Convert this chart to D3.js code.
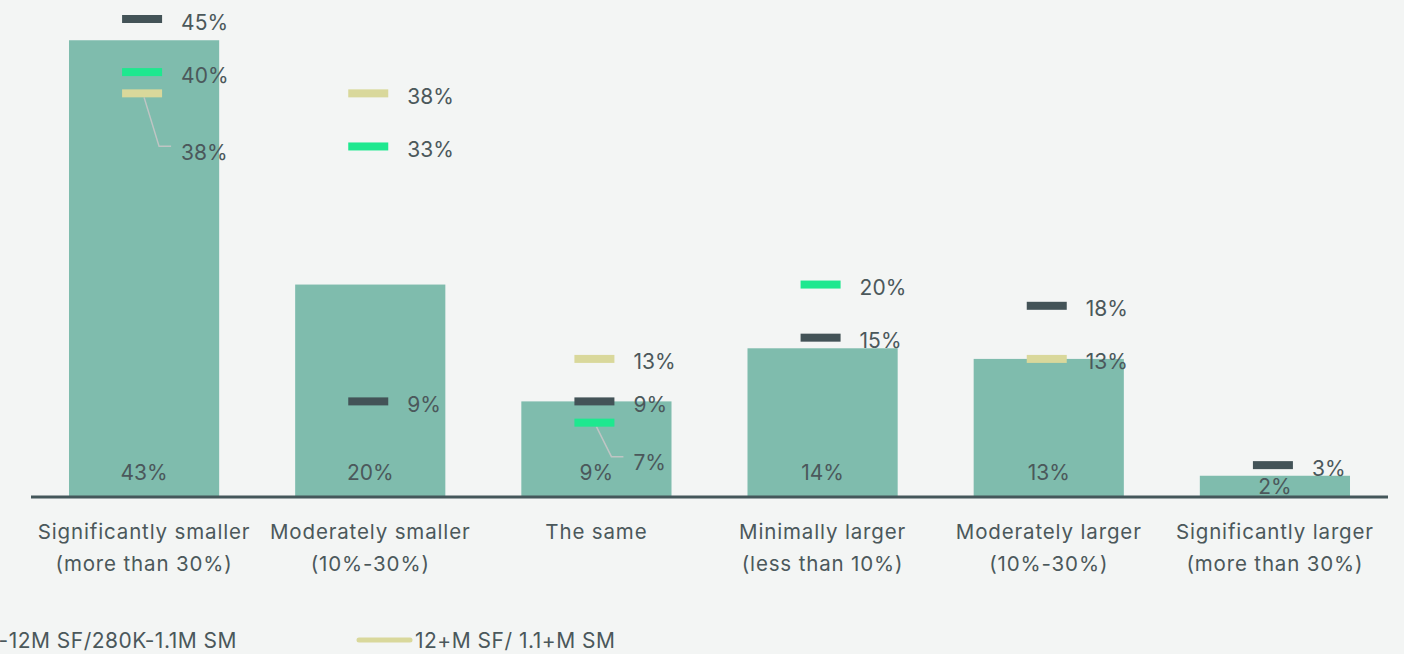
<!DOCTYPE html>
<meta charset="utf-8">
<style>
body { margin: 0; background: #f3f5f4; }
svg { display: block; font-family: Inter, sans-serif; }
.lbl { fill: #4b585b; font-size: 21px; letter-spacing: 0px; }
.cat { fill: #4b585b; font-size: 20.5px; letter-spacing: 0.85px; text-anchor: middle; }
.leg { fill: #4b585b; font-size: 21px; letter-spacing: 0.5px; }
.leader { fill: none; stroke: #bfc5c4; stroke-width: 1.5px; }
</style>
<svg width="1404" height="654"></svg>
<script src="https://cdn.jsdelivr.net/npm/d3@7"></script>
<script>

// data
var categories = [
  ["Significantly smaller", "(more than 30%)"],
  ["Moderately smaller", "(10%-30%)"],
  ["The same", ""],
  ["Minimally  larger", "(less than 10%)"],
  ["Moderately larger", "(10%-30%)"],
  ["Significantly larger", "(more than 30%)"]
];
var overall = [43, 20, 9, 14, 13, 2];
var smallOffice = [45, 9, 9, 15, 18, 3];
var midOffice = [40, 33, 7, 20, null, null];
var largeOffice = [38, 38, 13, null, 13, null];
var seriesNames = ["<1M SF/<280K SM", "1-12M SF/280K-1.1M SM", "12+M SF/ 1.1+M SM"];
var seriesColors = ["#435357", "#1ee88f", "#d9d89b"];

var svg = d3.select("svg"),
    baseline = 497;

var x = d3.scaleBand()
    .domain(d3.range(categories.length))
    .range([31, 1388])
    .paddingInner(0.336)
    .paddingOuter(0.168);

var y = d3.scaleLinear().domain([0, 45]).range([baseline, 19]);

// bars
svg.selectAll(".bar")
  .data(overall)
  .enter().append("rect")
    .attr("class", "bar")
    .attr("x", function(d, i) { return x(i); })
    .attr("width", x.bandwidth())
    .attr("y", function(d) { return y(d); })
    .attr("height", function(d) { return baseline - y(d); })
    .attr("fill", "#7fbcad");

svg.selectAll(".barlbl")
  .data(overall)
  .enter().append("text")
    .attr("class", "lbl")
    .attr("text-anchor", "middle")
    .attr("x", function(d, i) { return x(i) + x.bandwidth() / 2; })
    .attr("y", function(d) {
      var h = baseline - y(d);
      return h < 40 ? (y(d) + baseline) / 2 : baseline - 24;
    })
    .attr("dy", "0.35em")
    .text(function(d) { return d + "%"; });

// axis line
svg.append("line")
    .attr("x1", 31).attr("x2", 1388)
    .attr("y1", baseline).attr("y2", baseline)
    .attr("stroke", "#44575a")
    .attr("stroke-width", 3);

// category labels
var cat = svg.selectAll(".cat")
  .data(categories)
  .enter().append("text")
    .attr("class", "cat")
    .attr("x", function(d, i) { return x(i) + x.bandwidth() / 2; })
    .attr("y", 539);
cat.append("tspan").text(function(d) { return d[0]; });
cat.append("tspan")
    .attr("x", function(d, i) { return x(i) + x.bandwidth() / 2; })
    .attr("dy", 32)
    .text(function(d) { return d[1]; });

// markers (labels that collide get pushed down with a leader)
var nudge = {"2-0": 56, "1-2": 37};
var allSeries = [smallOffice, midOffice, largeOffice];
var marks = [];
allSeries.forEach(function(s, si) {
  s.forEach(function(v, ci) {
    if (v != null) marks.push({s: si, c: ci, v: v});
  });
});

var mk = svg.selectAll(".mark")
  .data(marks)
  .enter().append("g")
    .attr("transform", function(d) {
      return "translate(" + (x(d.c) + x.bandwidth() / 2 - 2) + "," + y(d.v) + ")";
    });

mk.append("path")
    .attr("class", "leader")
    .attr("d", function(d) {
      var n = nudge[d.s + "-" + d.c];
      if (!n) return null;
      return "M2,4L17," + (n - 3) + "L29," + (n - 3);
    });

mk.append("rect")
    .attr("x", -20).attr("y", -4)
    .attr("width", 40).attr("height", 8)
    .attr("fill", function(d) { return seriesColors[d.s]; });

mk.append("text")
    .attr("class", "lbl")
    .attr("x", 39)
    .attr("y", function(d) { return (nudge[d.s + "-" + d.c] || 0) + 3; })
    .attr("dy", "0.36em")
    .text(function(d) { return d.v + "%"; });

// legend (partly off the left edge, as in the original)
var lg = svg.selectAll(".lg")
  .data(seriesNames)
  .enter().append("g");

lg.append("line")
    .attr("x1", 2).attr("x2", 53)
    .attr("stroke", function(d, i) { return seriesColors[i]; })
    .attr("stroke-width", 5)
    .attr("stroke-linecap", "round");

lg.append("text")
    .attr("class", "leg")
    .attr("x", 58)
    .attr("dy", "0.36em")
    .text(function(d) { return d; });

// place items right to left: last one at 357, gap of 120 between items
var nextLeft = null;
lg.nodes().reverse().forEach(function(node, k) {
  var w = d3.select(node).select("text").node().getComputedTextLength() + 58;
  var left = k === 0 ? 357 : nextLeft - 120 - w;
  nextLeft = left;
  d3.select(node).attr("transform", "translate(" + left + ",640)");
});

</script>
